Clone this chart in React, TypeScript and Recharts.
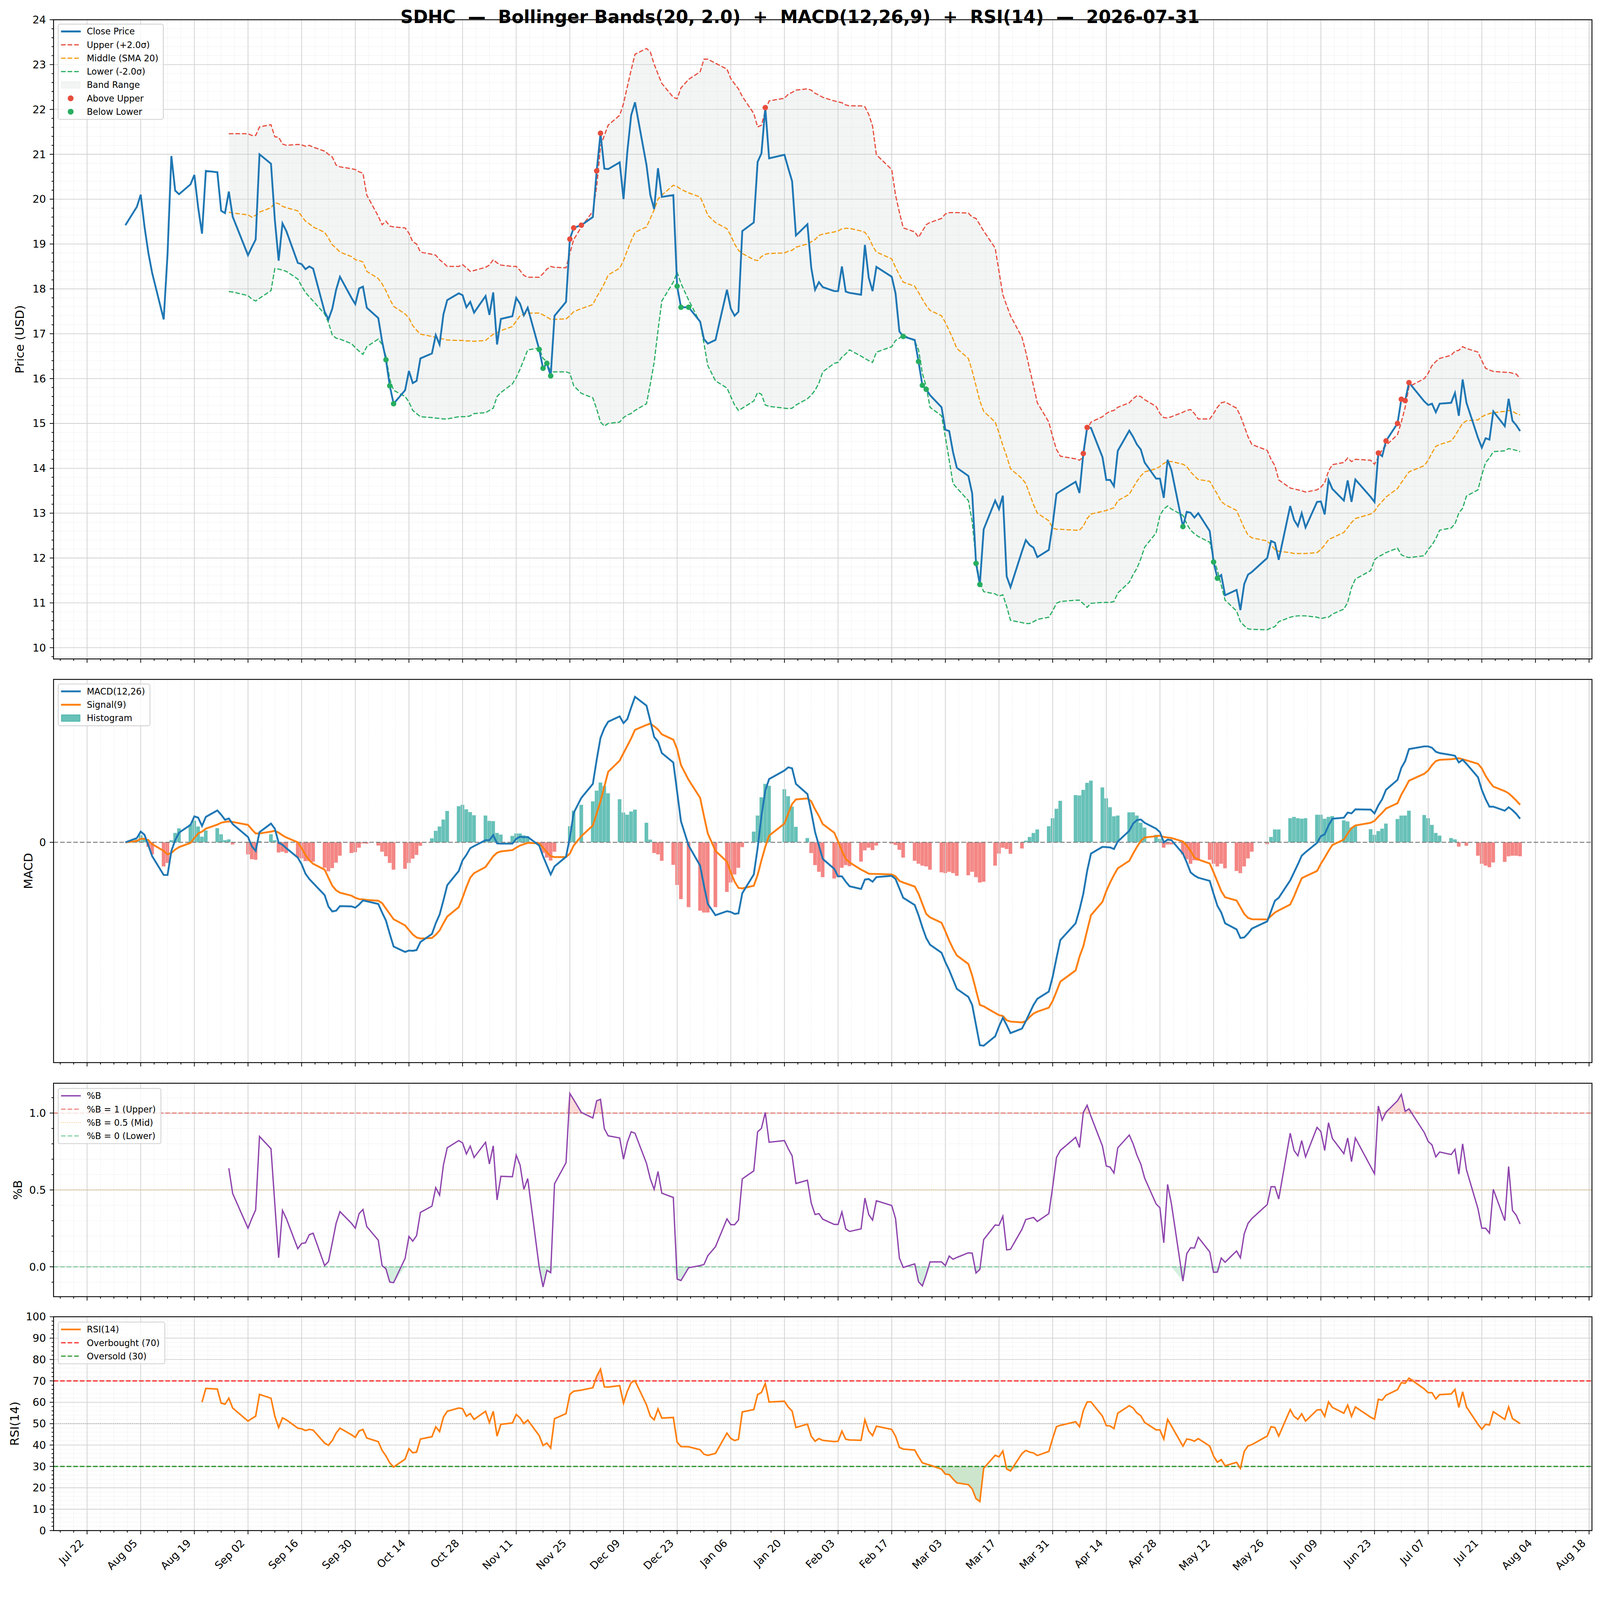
import React from 'react';
import { ComposedChart, Line, Area, Bar, Cell, XAxis, YAxis, ReferenceLine } from 'recharts';

// ---------- values ----------
const N = null;

const tradingDayGroups: [string, number[]][] = [
  ['2025-08', [1, 4, 5, 6, 7, 8, 11, 12, 13, 14, 15, 18, 19, 20, 21, 22, 25, 26, 27, 28, 29]],
  ['2025-09', [2, 3, 4, 5, 8, 9, 10, 11, 12, 15, 16, 17, 18, 19, 22, 23, 24, 25, 26, 29, 30]],
  ['2025-10', [1, 2, 3, 6, 7, 8, 9, 10, 13, 14, 15, 16, 17, 20, 21, 22, 23, 24, 27, 28, 29, 30, 31]],
  ['2025-11', [3, 4, 5, 6, 7, 10, 11, 12, 13, 14, 17, 18, 19, 20, 21, 24, 25, 26, 28]],
  ['2025-12', [1, 2, 3, 4, 5, 8, 9, 10, 11, 12, 15, 16, 17, 18, 19, 22, 23, 24, 26, 29, 30, 31]],
  ['2026-01', [2, 5, 6, 7, 8, 9, 12, 13, 14, 15, 16, 20, 21, 22, 23, 26, 27, 28, 29, 30]],
  ['2026-02', [2, 3, 4, 5, 6, 9, 10, 11, 12, 13, 17, 18, 19, 20, 23, 24, 25, 26, 27]],
  ['2026-03', [2, 3, 4, 5, 6, 9, 10, 11, 12, 13, 16, 17, 18, 19, 20, 23, 24, 25, 26, 27, 30, 31]],
  ['2026-04', [1, 2, 6, 7, 8, 9, 10, 13, 14, 15, 16, 17, 20, 21, 22, 23, 24, 27, 28, 29, 30]],
  ['2026-05', [1, 4, 5, 6, 7, 8, 11, 12, 13, 14, 15, 18, 19, 20, 21, 22, 26, 27, 28, 29]],
  ['2026-06', [1, 2, 3, 4, 5, 8, 9, 10, 11, 12, 15, 16, 17, 18, 22, 23, 24, 25, 26, 29, 30]],
  ['2026-07', [1, 2, 6, 7, 8, 9, 10, 13, 14, 15, 16, 17, 20, 21, 22, 23, 24, 27, 28, 29, 30, 31]],
];
const tradingDays = tradingDayGroups.flatMap(([m, ds]) => ds.map((d) => `${m}-${String(d).padStart(2, '0')}`));

const closePrice = [
  19.42, 19.83, 20.10, 19.38, 18.80, 18.35, 17.32, 18.77, 20.96, 20.19, 20.11, 20.33, 20.54, 19.81, 19.23, 20.63, 20.60, 19.74, 19.69, 20.17, 19.61,
  18.75, 18.93, 19.10, 21.00, 20.79, 19.54, 18.63, 19.46, 19.29, 18.58, 18.55, 18.44, 18.50, 18.45, 17.49, 17.32, 17.56, 17.98, 18.27, 17.80, 17.66,
  18.01, 18.05, 17.58, 17.35, 16.83, 16.42, 15.84, 15.44, 15.74, 16.17, 15.90, 15.95, 16.45, 16.56, 16.97, 16.76, 17.43, 17.75, 17.90, 17.86, 17.59, 17.71, 17.47,
  17.84, 17.42, 17.92, 16.76, 17.33, 17.39, 17.80, 17.67, 17.41, 17.58, 16.65, 16.23, 16.34, 16.06, 17.40, 17.71, 19.11, 19.36, 19.42,
  19.60, 20.63, 21.47, 20.68, 20.67, 20.82, 20.00, 21.06, 21.87, 22.16, 20.76, 20.09, 19.78, 20.69, 20.05, 20.09, 18.06, 17.59, 17.59, 17.27, 16.88, 16.78,
  16.86, 17.98, 17.56, 17.40, 17.49, 19.29, 19.48, 20.83, 21.02, 22.04, 20.91, 20.99, 20.69, 20.40, 19.19, 19.44, 18.47, 17.98, 18.15, 18.04,
  17.95, 17.95, 18.50, 17.94, 17.91, 17.87, 18.98, 18.25, 17.95, 18.49, 18.27, 17.90, 17.05, 16.94, 16.86, 16.38, 15.85, 15.76, 15.63,
  15.36, 14.86, 14.83, 14.36, 14.01, 13.83, 13.44, 11.88, 11.41, 12.64, 13.28, 13.09, 13.39, 11.59, 11.35, 12.15, 12.40, 12.29, 12.23, 12.02, 12.18, 12.75,
  13.43, 13.49, 13.70, 13.45, 14.33, 14.91, 14.90, 14.25, 13.74, 13.74, 13.60, 14.39, 14.84, 14.70, 14.53, 14.42, 14.13, 13.77, 13.77, 13.34, 14.19,
  13.96, 12.70, 13.03, 13.01, 12.90, 13.00, 12.60, 11.91, 11.55, 11.62, 11.17, 11.29, 10.84, 11.42, 11.63, 11.69, 12.00, 12.38, 12.34, 11.96,
  13.16, 12.85, 12.71, 13.00, 12.68, 13.25, 13.26, 12.97, 13.74, 13.54, 13.28, 13.73, 13.25, 13.75, 13.36, 13.25, 14.34, 14.27, 14.61, 15.00, 15.54,
  15.51, 15.91, 15.49, 15.41, 15.44, 15.25, 15.44, 15.46, 15.68, 15.17, 15.98, 15.46, 14.68, 14.46, 14.67, 14.64, 15.27, 14.94, 15.55, 15.06, 14.96, 14.83,
];

const upperBand = [
  N, N, N, N, N, N, N, N, N, N, N, N, N, N, N, N, N, N, N, 21.46, 21.46,
  21.46, 21.42, 21.42, 21.61, 21.66, 21.39, 21.38, 21.23, 21.20, 21.22, 21.21, 21.18, 21.20, 21.16, 21.07, 21.00, 20.94, 20.76, 20.72, 20.68, 20.66,
  20.61, 20.58, 20.09, 19.62, 19.43, 19.51, 19.40, 19.38, 19.36, 19.24, 19.05, 19.00, 18.82, 18.77, 18.75, 18.65, 18.58, 18.50, 18.50, 18.54, 18.47, 18.39, 18.41,
  18.48, 18.53, 18.65, 18.58, 18.53, 18.50, 18.50, 18.41, 18.30, 18.26, 18.26, 18.34, 18.44, 18.50, 18.48, 18.47, 18.79, 19.10, 19.38,
  19.73, 20.28, 21.18, 21.42, 21.65, 21.87, 22.13, 22.51, 22.88, 23.23, 23.36, 23.28, 23.01, 22.79, 22.58, 22.27, 22.24, 22.48, 22.67, 22.84, 23.12, 23.12,
  23.03, 22.90, 22.69, 22.57, 22.46, 22.29, 21.91, 21.61, 21.65, 21.97, 22.19, 22.25, 22.34, 22.38, 22.43, 22.46, 22.43, 22.36, 22.32, 22.27,
  22.19, 22.17, 22.15, 22.10, 22.08, 22.08, 22.06, 21.89, 21.63, 20.99, 20.66, 20.09, 19.71, 19.36, 19.27, 19.15, 19.29, 19.43, 19.48,
  19.57, 19.67, 19.70, 19.70, 19.70, 19.69, 19.60, 19.57, 19.43, 19.29, 18.91, 18.39, 17.87, 17.63, 17.40, 16.92, 16.59, 16.21, 15.84, 15.46, 15.03, 14.70,
  14.42, 14.27, 14.21, 14.18, 14.25, 14.87, 15.03, 15.15, 15.22, 15.27, 15.29, 15.36, 15.46, 15.55, 15.62, 15.60, 15.53, 15.38, 15.22, 15.13, 15.12,
  15.15, 15.25, 15.29, 15.31, 15.22, 15.10, 15.10, 15.22, 15.36, 15.46, 15.48, 15.34, 15.17, 14.94, 14.70, 14.53, 14.40, 14.20, 14.06, 13.74,
  13.56, 13.54, 13.52, 13.50, 13.47, 13.52, 13.58, 13.68, 13.94, 14.08, 14.13, 14.23, 14.15, 14.20, 14.18, 14.09, 14.25, 14.42, 14.51, 14.75, 15.03,
  15.36, 15.82, 16.00, 16.12, 16.29, 16.38, 16.45, 16.52, 16.61, 16.63, 16.71, 16.67, 16.59, 16.40, 16.23, 16.19, 16.16, 16.14, 16.14, 16.12, 16.10, 16.00,
];

const middleBand = [
  N, N, N, N, N, N, N, N, N, N, N, N, N, N, N, N, N, N, N, 19.71, 19.69,
  19.65, 19.60, 19.64, 19.71, 19.81, 19.92, 19.90, 19.84, 19.81, 19.74, 19.62, 19.51, 19.45, 19.38, 19.26, 19.13, 18.98, 18.91, 18.82, 18.72, 18.65,
  18.63, 18.60, 18.39, 18.23, 18.11, 17.96, 17.77, 17.61, 17.44, 17.35, 17.18, 17.08, 16.99, 16.94, 16.92, 16.90, 16.88, 16.86, 16.85, 16.85, 16.84, 16.84, 16.83,
  16.85, 16.92, 16.99, 17.02, 17.07, 17.16, 17.28, 17.40, 17.44, 17.46, 17.46, 17.42, 17.37, 17.32, 17.32, 17.33, 17.40, 17.49, 17.56,
  17.65, 17.82, 17.96, 18.12, 18.31, 18.46, 18.63, 18.86, 19.07, 19.26, 19.38, 19.57, 19.76, 20.00, 20.09, 20.31, 20.28, 20.22, 20.14, 20.05, 19.86, 19.64,
  19.48, 19.34, 19.19, 19.00, 18.86, 18.79, 18.65, 18.63, 18.72, 18.77, 18.79, 18.80, 18.84, 18.86, 18.93, 19.00, 19.05, 19.10, 19.19, 19.22,
  19.27, 19.29, 19.34, 19.35, 19.35, 19.29, 19.26, 19.15, 18.96, 18.82, 18.67, 18.48, 18.31, 18.15, 18.06, 17.92, 17.77, 17.63, 17.52,
  17.40, 17.25, 17.07, 16.88, 16.67, 16.45, 16.17, 15.84, 15.50, 15.27, 15.03, 14.79, 14.51, 14.27, 13.99, 13.77, 13.66, 13.42, 13.19, 13.00, 12.83, 12.67,
  12.64, 12.64, 12.62, 12.62, 12.71, 12.88, 12.98, 13.04, 13.06, 13.09, 13.12, 13.28, 13.42, 13.57, 13.71, 13.83, 13.92, 13.99, 14.04, 14.11, 14.15,
  14.15, 14.09, 14.04, 13.92, 13.83, 13.75, 13.71, 13.56, 13.42, 13.26, 13.19, 13.06, 12.86, 12.67, 12.51, 12.45, 12.38, 12.29, 12.19, 12.15,
  12.12, 12.10, 12.10, 12.10, 12.10, 12.12, 12.19, 12.29, 12.41, 12.45, 12.57, 12.68, 12.79, 12.88, 12.98, 13.04, 13.17, 13.26, 13.36, 13.55, 13.68,
  13.80, 13.92, 14.06, 14.18, 14.34, 14.49, 14.53, 14.61, 14.72, 14.87, 15.00, 15.06, 15.08, 15.15, 15.19, 15.22, 15.24, 15.27, 15.29, 15.27, 15.22, 15.19,
];

const lowerBand = [
  N, N, N, N, N, N, N, N, N, N, N, N, N, N, N, N, N, N, N, 17.94, 17.93,
  17.85, 17.77, 17.73, 17.79, 17.96, 18.45, 18.44, 18.42, 18.39, 18.22, 18.06, 17.92, 17.82, 17.73, 17.44, 17.25, 16.97, 16.90, 16.88, 16.78, 16.69,
  16.61, 16.54, 16.71, 16.88, 16.76, 16.50, 15.98, 15.74, 15.60, 15.48, 15.29, 15.22, 15.15, 15.13, 15.12, 15.11, 15.10, 15.10, 15.15, 15.15, 15.15, 15.17, 15.22,
  15.24, 15.29, 15.34, 15.60, 15.69, 15.88, 16.02, 16.21, 16.42, 16.64, 16.68, 16.45, 16.38, 16.15, 16.15, 16.15, 16.12, 15.84, 15.67,
  15.57, 15.32, 15.03, 14.94, 15.00, 15.03, 15.13, 15.19, 15.22, 15.29, 15.44, 15.88, 16.36, 17.07, 17.73, 18.15, 18.37, 18.12, 17.75, 17.25, 16.78, 16.29,
  15.95, 15.79, 15.60, 15.41, 15.29, 15.34, 15.50, 15.69, 15.65, 15.41, 15.38, 15.34, 15.33, 15.34, 15.41, 15.55, 15.63, 15.74, 15.90, 16.15,
  16.34, 16.36, 16.48, 16.55, 16.64, 16.50, 16.45, 16.40, 16.36, 16.59, 16.71, 16.85, 16.90, 16.97, 16.84, 16.64, 16.12, 15.82, 15.36,
  15.17, 14.70, 14.18, 13.66, 13.56, 13.28, 12.81, 11.96, 11.46, 11.25, 11.20, 11.15, 11.18, 10.92, 10.61, 10.56, 10.54, 10.54, 10.58, 10.63, 10.68, 10.82,
  10.99, 11.03, 11.06, 11.06, 10.98, 10.90, 10.99, 11.01, 11.01, 11.01, 11.03, 11.22, 11.46, 11.63, 11.77, 11.98, 12.24, 12.56, 12.95, 13.09, 13.16,
  13.09, 12.95, 12.76, 12.62, 12.54, 12.48, 12.35, 12.00, 11.72, 11.39, 11.06, 10.82, 10.58, 10.49, 10.42, 10.41, 10.40, 10.44, 10.47, 10.58,
  10.68, 10.70, 10.71, 10.71, 10.71, 10.68, 10.65, 10.67, 10.68, 10.75, 10.86, 11.01, 11.34, 11.53, 11.72, 11.96, 12.03, 12.07, 12.12, 12.22, 12.07,
  12.03, 12.01, 12.05, 12.19, 12.29, 12.43, 12.62, 12.67, 12.76, 13.00, 13.11, 13.38, 13.52, 13.85, 14.13, 14.23, 14.37, 14.39, 14.44, 14.42, 14.40, 14.37,
];

const aboveUpperDays = [
  '2025-11-25', '2025-11-26', '2025-11-28', '2025-12-02', '2025-12-03', '2026-01-15', '2026-04-08', '2026-04-09',
  '2026-06-24', '2026-06-26', '2026-06-29', '2026-06-30', '2026-07-01', '2026-07-02',
];
const belowLowerDays = [
  '2025-10-08', '2025-10-09', '2025-10-10', '2025-11-17', '2025-11-18', '2025-11-19', '2025-11-20', '2025-12-23',
  '2025-12-24', '2025-12-26', '2026-02-20', '2026-02-24', '2026-02-25', '2026-02-26', '2026-03-11', '2026-03-12',
  '2026-05-04', '2026-05-12', '2026-05-13',
];

const macdLine = [
  0.000, 0.032, 0.080, 0.056, -0.024, -0.104, -0.244, -0.244, -0.064, 0.016, 0.072, 0.130, 0.194, 0.184, 0.122, 0.190, 0.238, 0.206, 0.168, 0.178, 0.136,
  0.040, -0.030, -0.064, 0.076, 0.140, 0.102, -0.004, -0.018, -0.044, -0.114, -0.164, -0.234, -0.274, -0.304, -0.394, -0.480, -0.516, -0.510, -0.476, -0.478, -0.488,
  -0.464, -0.434, -0.440, -0.460, -0.524, -0.584, -0.684, -0.778, -0.818, -0.808, -0.810, -0.804, -0.744, -0.684, -0.604, -0.540, -0.434, -0.320, -0.214, -0.134, -0.094, -0.044, -0.028,
  0.016, 0.016, 0.054, -0.008, -0.010, -0.010, 0.026, 0.042, 0.038, 0.040, -0.024, -0.104, -0.172, -0.240, -0.180, -0.108, 0.036, 0.220, 0.332,
  0.436, 0.616, 0.780, 0.852, 0.900, 0.940, 0.890, 0.920, 1.006, 1.086, 1.020, 0.906, 0.786, 0.752, 0.666, 0.596, 0.376, 0.156, -0.024, -0.174, -0.324, -0.460,
  -0.544, -0.514, -0.520, -0.534, -0.530, -0.380, -0.240, -0.044, 0.196, 0.386, 0.472, 0.536, 0.560, 0.552, 0.436, 0.360, 0.226, 0.076, -0.024, -0.124,
  -0.198, -0.254, -0.254, -0.294, -0.328, -0.348, -0.278, -0.274, -0.294, -0.260, -0.250, -0.274, -0.344, -0.414, -0.468, -0.544, -0.634, -0.714, -0.764,
  -0.824, -0.894, -0.954, -1.024, -1.094, -1.154, -1.214, -1.364, -1.514, -1.518, -1.448, -1.374, -1.310, -1.364, -1.424, -1.390, -1.334, -1.274, -1.214, -1.168, -1.114, -1.004,
  -0.864, -0.730, -0.604, -0.504, -0.384, -0.214, -0.084, -0.034, -0.036, -0.038, -0.050, 0.006, 0.086, 0.140, 0.166, 0.170, 0.146, 0.102, 0.076, 0.000, 0.020,
  0.016, -0.084, -0.150, -0.224, -0.248, -0.264, -0.288, -0.384, -0.474, -0.524, -0.604, -0.650, -0.714, -0.710, -0.680, -0.644, -0.590, -0.514, -0.436, -0.414,
  -0.284, -0.224, -0.164, -0.100, -0.074, -0.004, 0.046, 0.060, 0.126, 0.176, 0.184, 0.222, 0.216, 0.246, 0.244, 0.216, 0.276, 0.322, 0.392, 0.466, 0.556,
  0.606, 0.696, 0.716, 0.716, 0.706, 0.676, 0.666, 0.652, 0.646, 0.596, 0.616, 0.586, 0.486, 0.392, 0.322, 0.266, 0.266, 0.236, 0.262, 0.240, 0.212, 0.176,
];

const signalLine = [
  0.000, 0.010, 0.026, 0.026, 0.016, -0.014, -0.064, -0.090, -0.080, -0.054, -0.036, -0.004, 0.032, 0.066, 0.080, 0.102, 0.132, 0.146, 0.152, 0.156, 0.152,
  0.130, 0.096, 0.066, 0.066, 0.080, 0.086, 0.072, 0.052, 0.036, 0.000, -0.044, -0.094, -0.134, -0.160, -0.204, -0.264, -0.324, -0.358, -0.376, -0.398, -0.414,
  -0.424, -0.426, -0.430, -0.436, -0.454, -0.494, -0.534, -0.574, -0.620, -0.654, -0.688, -0.710, -0.718, -0.714, -0.690, -0.658, -0.604, -0.554, -0.484, -0.414, -0.334, -0.264, -0.230,
  -0.184, -0.144, -0.104, -0.078, -0.068, -0.058, -0.040, -0.024, -0.014, -0.004, -0.008, -0.040, -0.074, -0.104, -0.110, -0.110, -0.084, -0.024, 0.046,
  0.126, 0.216, 0.306, 0.416, 0.526, 0.610, 0.666, 0.720, 0.776, 0.840, 0.876, 0.886, 0.866, 0.842, 0.806, 0.766, 0.696, 0.576, 0.466, 0.332, 0.196, 0.066,
  -0.064, -0.144, -0.224, -0.294, -0.340, -0.344, -0.324, -0.244, -0.134, -0.034, 0.050, 0.140, 0.216, 0.286, 0.320, 0.328, 0.306, 0.246, 0.196, 0.136,
  0.072, 0.006, -0.064, -0.124, -0.150, -0.204, -0.218, -0.234, -0.236, -0.236, -0.240, -0.254, -0.288, -0.300, -0.330, -0.384, -0.460, -0.534, -0.560,
  -0.600, -0.664, -0.734, -0.794, -0.844, -0.908, -0.994, -1.104, -1.214, -1.224, -1.274, -1.290, -1.296, -1.328, -1.338, -1.344, -1.334, -1.304, -1.278, -1.264, -1.234, -1.184,
  -1.114, -1.040, -0.956, -0.854, -0.776, -0.658, -0.544, -0.444, -0.364, -0.300, -0.244, -0.194, -0.138, -0.084, -0.034, 0.010, 0.036, 0.046, 0.050, 0.040, 0.036,
  0.032, 0.006, -0.024, -0.064, -0.114, -0.128, -0.158, -0.224, -0.294, -0.364, -0.410, -0.434, -0.484, -0.534, -0.564, -0.574, -0.576, -0.550, -0.524, -0.508,
  -0.464, -0.404, -0.334, -0.268, -0.254, -0.214, -0.160, -0.114, -0.064, -0.020, 0.020, 0.066, 0.106, 0.126, 0.146, 0.160, 0.192, 0.220, 0.252, 0.292, 0.356,
  0.406, 0.460, 0.512, 0.536, 0.576, 0.606, 0.616, 0.620, 0.624, 0.628, 0.620, 0.612, 0.586, 0.552, 0.496, 0.452, 0.416, 0.382, 0.366, 0.340, 0.312, 0.280,
];

const macdHistogram = [
  0, 0.022, 0.054, 0.030, -0.034, -0.090, -0.180, -0.154, 0.016, 0.070, 0.104, 0.134, 0.162, 0.118, 0.042, 0.088, 0.106, 0.060, 0.016, 0.022, -0.016,
  -0.090, -0.126, -0.130, 0.010, 0.060, 0.016, -0.076, -0.070, -0.080, -0.114, -0.120, -0.140, -0.140, -0.144, -0.190, -0.216, -0.192, -0.152, -0.100, -0.080, -0.074,
  -0.040, -0.008, -0.010, -0.024, -0.070, -0.104, -0.154, -0.204, -0.198, -0.154, -0.122, -0.094, -0.026, 0.030, 0.086, 0.118, 0.170, 0.234, 0.270, 0.280, 0.246, 0.226, 0.202,
  0.200, 0.160, 0.158, 0.070, 0.058, 0.048, 0.066, 0.066, 0.052, 0.044, -0.016, -0.080, -0.114, -0.136, -0.070, -0.002, 0.120, 0.236, 0.280,
  0.306, 0.386, 0.446, 0.420, 0.366, 0.322, 0.222, 0.206, 0.230, 0.244, 0.146, 0.020, -0.080, -0.090, -0.138, -0.168, -0.318, -0.424, -0.484, -0.510, -0.524, -0.524,
  -0.484, -0.370, -0.300, -0.240, -0.190, -0.036, 0.080, 0.200, 0.336, 0.436, 0.422, 0.396, 0.344, 0.266, 0.116, 0.032, -0.080, -0.170, -0.220, -0.260,
  -0.270, -0.260, -0.190, -0.170, -0.178, -0.144, -0.060, -0.040, -0.058, -0.024, -0.010, -0.020, -0.056, -0.114, -0.138, -0.160, -0.174, -0.180, -0.204,
  -0.224, -0.230, -0.220, -0.230, -0.250, -0.246, -0.220, -0.260, -0.300, -0.294, -0.174, -0.084, -0.040, -0.050, -0.086, -0.046, 0.012, 0.040, 0.070, 0.096, 0.120, 0.180,
  0.250, 0.310, 0.352, 0.350, 0.392, 0.444, 0.460, 0.410, 0.328, 0.262, 0.194, 0.200, 0.224, 0.224, 0.200, 0.146, 0.110, 0.056, 0.026, -0.040, -0.016,
  -0.016, -0.090, -0.126, -0.160, -0.134, -0.136, -0.130, -0.160, -0.180, -0.160, -0.194, -0.214, -0.230, -0.180, -0.120, -0.070, -0.014, 0.040, 0.096, 0.096,
  0.180, 0.190, 0.180, 0.176, 0.180, 0.206, 0.206, 0.176, 0.190, 0.196, 0.164, 0.156, 0.110, 0.120, 0.098, 0.056, 0.084, 0.102, 0.140, 0.174, 0.200,
  0.200, 0.236, 0.204, 0.180, 0.130, 0.070, 0.050, 0.032, 0.022, -0.032, -0.004, -0.026, -0.100, -0.160, -0.174, -0.186, -0.150, -0.146, -0.104, -0.100, -0.100, -0.104,
];

const percentB = [
  N, N, N, N, N, N, N, N, N, N, N, N, N, N, N, N, N, N, N, 0.641, 0.477,
  0.251, 0.314, 0.371, 0.848, 0.768, 0.409, 0.059, 0.367, 0.314, 0.118, 0.152, 0.156, 0.209, 0.219, 0.008, 0.034, 0.156, 0.283, 0.359, 0.283, 0.251,
  0.346, 0.373, 0.262, 0.173, 0.008, -0.013, -0.099, -0.103, 0.055, 0.198, 0.167, 0.203, 0.354, 0.395, 0.515, 0.466, 0.662, 0.774, 0.821, 0.806, 0.734, 0.785, 0.711,
  0.810, 0.669, 0.787, 0.435, 0.589, 0.586, 0.726, 0.662, 0.504, 0.574, -0.002, -0.131, -0.023, -0.038, 0.540, 0.677, 1.127, 1.087, 1.004,
  0.968, 1.080, 1.089, 0.899, 0.852, 0.838, 0.700, 0.810, 0.878, 0.869, 0.673, 0.572, 0.504, 0.620, 0.479, 0.451, -0.080, -0.089, -0.006, 0.008, 0.015, 0.072,
  0.131, 0.312, 0.274, 0.274, 0.304, 0.572, 0.624, 0.878, 0.901, 1.004, 0.810, 0.821, 0.768, 0.722, 0.542, 0.563, 0.414, 0.340, 0.346, 0.310,
  0.276, 0.276, 0.357, 0.247, 0.230, 0.247, 0.447, 0.340, 0.304, 0.430, 0.399, 0.314, 0.057, -0.004, 0.019, -0.097, -0.124, -0.051, 0.032,
  0.032, 0.008, 0.070, 0.049, 0.061, 0.091, 0.089, -0.040, -0.017, 0.177, 0.272, 0.270, 0.329, 0.110, 0.114, 0.245, 0.308, 0.314, 0.321, 0.295, 0.346, 0.519,
  0.711, 0.757, 0.842, 0.776, 1.004, 1.051, 0.979, 0.785, 0.656, 0.648, 0.610, 0.774, 0.857, 0.800, 0.726, 0.669, 0.578, 0.409, 0.384, 0.156, 0.536,
  0.409, -0.093, 0.086, 0.124, 0.122, 0.192, 0.097, -0.036, -0.034, 0.057, 0.030, 0.103, 0.059, 0.215, 0.283, 0.314, 0.405, 0.521, 0.521, 0.441,
  0.869, 0.757, 0.722, 0.821, 0.715, 0.907, 0.880, 0.757, 0.937, 0.835, 0.736, 0.838, 0.684, 0.838, 0.652, 0.605, 1.046, 0.954, 1.006, 1.080, 1.122,
  1.011, 1.027, 0.873, 0.816, 0.793, 0.715, 0.747, 0.730, 0.764, 0.603, 0.800, 0.631, 0.378, 0.251, 0.251, 0.219, 0.504, 0.300, 0.652, 0.367, 0.335, 0.278,
];

const rsi14 = [
  N, N, N, N, N, N, N, N, N, N, N, N, N, N, 60.1, 66.5, 66.2, 59.6, 59.1, 61.9, 57.3,
  51.2, 52.4, 53.5, 63.7, 61.9, 53.5, 48.2, 52.7, 51.8, 47.9, 47.6, 46.8, 47.3, 47.0, 40.9, 39.9, 42.1, 45.6, 47.9, 44.8, 43.6,
  46.6, 47.3, 43.3, 41.6, 37.5, 34.9, 31.7, 29.7, 33.4, 38.3, 36.4, 36.7, 42.8, 43.9, 48.5, 46.3, 53.0, 55.8, 57.3, 57.0, 53.5, 54.7, 52.0,
  55.8, 50.5, 55.8, 44.2, 49.7, 50.3, 54.3, 52.7, 50.0, 51.7, 44.4, 39.8, 40.9, 38.6, 52.3, 54.7, 63.7, 65.2, 65.7,
  66.8, 72.1, 75.5, 67.2, 67.1, 67.8, 59.6, 65.2, 69.2, 70.1, 58.8, 53.5, 51.8, 56.9, 52.6, 52.9, 41.3, 39.3, 39.2, 37.8, 35.7, 35.2,
  36.1, 45.6, 43.1, 42.1, 42.7, 55.5, 56.6, 63.6, 64.6, 68.8, 60.1, 60.5, 57.8, 55.9, 48.2, 49.8, 44.1, 41.8, 43.0, 42.2,
  41.6, 41.8, 46.5, 42.7, 42.4, 42.2, 51.8, 46.6, 44.4, 48.8, 47.3, 44.1, 38.9, 38.1, 37.7, 34.5, 31.7, 31.1, 30.6,
  28.7, 26.4, 26.2, 24.1, 22.3, 21.5, 19.5, 14.9, 13.6, 29.1, 35.2, 34.5, 37.2, 28.8, 27.9, 36.0, 37.5, 36.7, 36.3, 35.1, 37.0, 43.1,
  48.6, 49.2, 50.9, 48.6, 56.1, 60.1, 60.2, 53.5, 49.1, 48.9, 47.7, 54.9, 58.4, 57.3, 55.0, 53.7, 50.6, 47.1, 47.1, 42.8, 52.0,
  48.9, 39.5, 42.8, 42.5, 41.8, 43.0, 39.5, 34.8, 32.0, 33.2, 30.3, 31.9, 29.1, 37.0, 39.6, 40.2, 44.2, 48.6, 48.2, 44.2,
  56.6, 53.4, 52.0, 54.6, 51.2, 56.4, 56.6, 53.4, 60.2, 57.6, 54.9, 58.7, 53.4, 57.8, 53.0, 52.1, 61.4, 61.0, 63.3, 65.9, 69.2,
  68.9, 71.3, 66.2, 64.5, 64.5, 61.6, 63.6, 63.9, 66.0, 57.6, 64.9, 57.8, 49.7, 47.4, 49.7, 49.4, 55.6, 52.0, 57.8, 52.4, 51.2, 50.0,
];

// ---------- layout ----------
const FONT = "'DejaVu Sans', sans-serif";
const PAGE_W = 4378;
const PAGE_H = 4322;
const PLOT_LEFT = 146.5;
const PLOT_RIGHT = 4356;
const X_DOMAIN: [number, number] = [-8.75, 392.75];
const PAD_TOP = 30;

const EPOCH = Date.UTC(2025, 6, 22);
const DAY_MS = 86400000;
const MONTHS = ['Jan', 'Feb', 'Mar', 'Apr', 'May', 'Jun', 'Jul', 'Aug', 'Sep', 'Oct', 'Nov', 'Dec'];
const toDay = (s: string) => {
  const [y, m, d] = s.split('-').map(Number);
  return (Date.UTC(y, m - 1, d) - EPOCH) / DAY_MS;
};
const fmtDay = (v: number) => {
  const dt = new Date(EPOCH + v * DAY_MS);
  return `${MONTHS[dt.getUTCMonth()]} ${String(dt.getUTCDate()).padStart(2, '0')}`;
};

const rows = tradingDays.map((day, i) => {
  const up = upperBand[i] ?? null;
  const lo = lowerBand[i] ?? null;
  return {
    x: toDay(day),
    close: closePrice[i],
    upper: up,
    middle: middleBand[i] ?? null,
    lower: lo,
    band: up == null || lo == null ? null : [lo, up],
    above: aboveUpperDays.includes(day) ? closePrice[i] : null,
    below: belowLowerDays.includes(day) ? closePrice[i] : null,
    macd: macdLine[i],
    signal: signalLine[i],
    hist: macdHistogram[i] ?? 0,
    pctB: percentB[i] ?? null,
    rsi: rsi14[i] ?? null,
  };
});

const steps = (a: number, b: number, s: number) => {
  const out: number[] = [];
  const n = Math.round((b - a) / s);
  for (let i = 0; i <= n; i++) out.push(+(a + i * s).toFixed(6));
  return out;
};
const isMult = (v: number, s: number) => Math.abs(v / s - Math.round(v / s)) < 1e-6;

const majorX = steps(0, 392, 14);
const minorX = steps(-7, 392, 3.5).filter((v) => !isMult(v, 14));
const xTicks = [...minorX, ...majorX].sort((a, b) => a - b);

const priceMajor = steps(10, 24, 1);
const priceMinor = steps(9.8, 24, 0.2).filter((v) => !isMult(v, 1));
const pctBMajor = [0, 0.5, 1];
const pctBMinor = steps(-0.1, 1.1, 0.1).filter((v) => !isMult(v, 0.5));
const rsiMajor = steps(0, 100, 10);
const rsiMinor = steps(0, 100, 2).filter((v) => !isMult(v, 10));

const GRID_MAJOR = { stroke: '#d0d0d0', strokeWidth: 2 };
const GRID_MINOR = { stroke: '#d6d6d6', strokeWidth: 1.3, strokeDasharray: '1.3 3.2' };
const DASH = '12.6 5.4';

const makeXTick = (labels: boolean) => (p: any) => {
  const { x, y, payload } = p;
  const v = payload.value as number;
  const major = isMult(v, 14);
  const ax = x - 7.5;
  const ay = y + 36.5;
  return (
    <g>
      <line x1={x} y1={y} x2={x} y2={y + (major ? 10.5 : 5.5)} stroke="#000" strokeWidth={2} />
      {labels && major ? (
        <text x={ax} y={ay} textAnchor="end" fontSize={29} fontFamily={FONT} fill="#000" transform={`rotate(-45 ${ax} ${ay})`}>
          {fmtDay(v)}
        </text>
      ) : null}
    </g>
  );
};

const makeYTick = (isMajor: (v: number) => boolean, fmt: (v: number) => string) => (p: any) => {
  const { x, y, payload } = p;
  const v = payload.value as number;
  const major = isMajor(v);
  return (
    <g>
      <line x1={x - (major ? 10.5 : 5.5)} y1={y} x2={x} y2={y} stroke="#000" strokeWidth={2} />
      {major ? (
        <text x={x - 20.5} y={y} textAnchor="end" dominantBaseline="central" fontSize={29} fontFamily={FONT} fill="#000">
          {fmt(v)}
        </text>
      ) : null}
    </g>
  );
};

const vGrid = (id: string) => [
  ...minorX.map((v) => <ReferenceLine key={`${id}vm${v}`} x={v} {...GRID_MINOR} />),
  ...majorX.map((v) => <ReferenceLine key={`${id}vM${v}`} x={v} {...GRID_MAJOR} />),
];
const hGrid = (id: string, majors: number[], minors: number[]) => [
  ...minors.map((v) => <ReferenceLine key={`${id}hm${v}`} y={v} {...GRID_MINOR} />),
  ...majors.map((v) => <ReferenceLine key={`${id}hM${v}`} y={v} {...GRID_MAJOR} />),
];

const markerDot = (color: string) => (p: any) => {
  if (p.value == null || p.cy == null || Number.isNaN(p.cy)) return <g key={`n${p.index}`} />;
  return <circle key={`d${p.index}`} cx={p.cx} cy={p.cy} r={7.5} fill={color} />;
};

type PanelProps = {
  top: number;
  height: number;
  domain: [number, number];
  yTicks: number[];
  yMajor: (v: number) => boolean;
  yFmt: (v: number) => string;
  xLabels?: boolean;
  children: React.ReactNode;
};

function Panel({ top, height, domain, yTicks, yMajor, yFmt, xLabels, children }: PanelProps) {
  const axisH = xLabels ? 135 : 24;
  return (
    <div style={{ position: 'absolute', left: 0, top: top - PAD_TOP }}>
      <ComposedChart
        width={PAGE_W}
        height={PAD_TOP + height + axisH}
        data={rows}
        margin={{ top: PAD_TOP, right: PAGE_W - PLOT_RIGHT, bottom: 0, left: 0 }}
      >
        <XAxis
          dataKey="x"
          type="number"
          domain={X_DOMAIN}
          allowDataOverflow
          ticks={xTicks}
          interval={0}
          tickSize={0}
          tickMargin={0}
          axisLine={false}
          tickLine={false}
          height={axisH}
          tick={makeXTick(!!xLabels)}
        />
        <YAxis
          type="number"
          domain={domain}
          allowDataOverflow
          ticks={yTicks}
          interval={0}
          width={PLOT_LEFT}
          tickSize={0}
          tickMargin={0}
          axisLine={false}
          tickLine={false}
          tick={makeYTick(yMajor, yFmt)}
        />
        {children}
      </ComposedChart>
    </div>
  );
}

const P_PRICE = { top: 54, height: 1749 };
const P_MACD = { top: 1859, height: 1048.5 };
const P_PCTB = { top: 2964, height: 584 };
const P_RSI = { top: 3603, height: 585 };

type LegendItem = { label: string; kind: 'line' | 'patch' | 'dot'; color: string; width?: number; dash?: string; opacity?: number };

function LegendBox({ firstY, width, items }: { firstY: number; width: number; items: LegendItem[] }) {
  const step = 36.6;
  const top = firstY - 20;
  const h = (items.length - 1) * step + 41;
  return (
    <g>
      <rect x={159.3} y={top} width={width} height={h} rx={5} fill="#fff" fillOpacity={0.8} stroke="#cccccc" strokeWidth={2} />
      {items.map((it, i) => {
        const cy = firstY + i * step;
        let handle: React.ReactNode = null;
        if (it.kind === 'line') {
          handle = (
            <line x1={167} y1={cy} x2={221} y2={cy} stroke={it.color} strokeWidth={it.width ?? 5} strokeDasharray={it.dash}
              strokeOpacity={it.opacity ?? 1} />
          );
        } else if (it.kind === 'patch') {
          handle = <rect x={168} y={cy - 9} width={51} height={18} fill={it.color} fillOpacity={it.opacity ?? 1} stroke={it.color}
            strokeOpacity={(it.opacity ?? 1) * 1.2} strokeWidth={1.5} />;
        } else {
          handle = <circle cx={193.3} cy={cy} r={8} fill={it.color} />;
        }
        return (
          <g key={it.label}>
            {handle}
            <text x={237.5} y={cy} dominantBaseline="central" fontSize={24} fontFamily={FONT} fill="#000">
              {it.label}
            </text>
          </g>
        );
      })}
    </g>
  );
}

const spine = (p: { top: number; height: number }, key: string) => (
  <rect key={key} x={PLOT_LEFT} y={p.top} width={PLOT_RIGHT - PLOT_LEFT} height={p.height} fill="none" stroke="#000" strokeWidth={2.4} />
);

const yLabel = (text: string, cx: number, cy: number) => (
  <text x={cx} y={cy} textAnchor="middle" dominantBaseline="central" fontSize={33} fontFamily={FONT} fill="#000"
    transform={`rotate(-90 ${cx} ${cy})`}>
    {text}
  </text>
);

export default function App() {
  // the figure is laid out at 4378x4322; shrink it if the real viewport is smaller
  const [scale, setScale] = React.useState(1);
  React.useLayoutEffect(() => {
    const fit = () => setScale(Math.min(1, window.innerWidth / PAGE_W, window.innerHeight / PAGE_H));
    fit();
    window.addEventListener('resize', fit);
    return () => window.removeEventListener('resize', fit);
  }, []);

  return (
    <div
      style={{
        position: 'absolute', left: 0, top: 0, width: PAGE_W, height: PAGE_H, background: '#fff', overflow: 'hidden',
        transform: `scale(${scale})`, transformOrigin: '0 0',
      }}
    >
      <Panel {...P_PRICE} domain={[9.75, 24]} yTicks={[...priceMinor, ...priceMajor]} yMajor={(v) => isMult(v, 1)} yFmt={(v) => String(v)}>
        {[
          ...vGrid('p'),
          ...hGrid('p', priceMajor, priceMinor),
          <Area key="band" dataKey="band" type="linear" fill="#95a5a6" fillOpacity={0.11} stroke="none" isAnimationActive={false} />,
          <Line key="upper" dataKey="upper" type="linear" stroke="#e74c3c" strokeWidth={3.2} strokeDasharray={DASH} dot={false} activeDot={false} isAnimationActive={false} />,
          <Line key="middle" dataKey="middle" type="linear" stroke="#f39c12" strokeWidth={3.2} strokeDasharray={DASH} dot={false} activeDot={false} isAnimationActive={false} />,
          <Line key="lower" dataKey="lower" type="linear" stroke="#27ae60" strokeWidth={3.2} strokeDasharray={DASH} dot={false} activeDot={false} isAnimationActive={false} />,
          <Line key="close" dataKey="close" type="linear" stroke="#1f77b4" strokeWidth={5} dot={false} activeDot={false} isAnimationActive={false} />,
          <Line key="above" dataKey="above" stroke="none" dot={markerDot('#e74c3c')} activeDot={false} isAnimationActive={false} />,
          <Line key="below" dataKey="below" stroke="none" dot={markerDot('#27ae60')} activeDot={false} isAnimationActive={false} />,
        ]}
      </Panel>

      <Panel {...P_MACD} domain={[-1.644, 1.216]} yTicks={[0]} yMajor={() => true} yFmt={() => '0'}>
        {[
          ...vGrid('m'),
          <Bar key="hist" dataKey="hist" barSize={10} isAnimationActive={false}>
            {rows.map((r, i) => (
              <Cell key={`c${i}`} fill={r.hist >= 0 ? '#26a69a' : '#ef5350'} fillOpacity={0.7} />
            ))}
          </Bar>,
          <ReferenceLine key="zero" y={0} stroke="#808080" strokeWidth={2.7} strokeDasharray={DASH} />,
          <Line key="signal" dataKey="signal" type="linear" stroke="#ff7f0e" strokeWidth={5} dot={false} activeDot={false} isAnimationActive={false} />,
          <Line key="macd" dataKey="macd" type="linear" stroke="#1f77b4" strokeWidth={5} dot={false} activeDot={false} isAnimationActive={false} />,
        ]}
      </Panel>

      <Panel {...P_PCTB} domain={[-0.194, 1.194]} yTicks={[...pctBMinor, ...pctBMajor]} yMajor={(v) => isMult(v, 0.5)} yFmt={(v) => v.toFixed(1)}>
        {[
          ...vGrid('b'),
          ...hGrid('b', pctBMajor, pctBMinor),
          <Area key="bHi" dataKey={(r: any) => (r.pctB == null ? null : [1, Math.max(1, r.pctB)])} type="linear" fill="#e74c3c" fillOpacity={0.2} stroke="none" isAnimationActive={false} />,
          <Area key="bLo" dataKey={(r: any) => (r.pctB == null ? null : [Math.min(0, r.pctB), 0])} type="linear" fill="#27ae60" fillOpacity={0.2} stroke="none" isAnimationActive={false} />,
          <ReferenceLine key="b1" y={1} stroke="#e74c3c" strokeOpacity={0.75} strokeWidth={2.6} strokeDasharray={DASH} />,
          <ReferenceLine key="b05" y={0.5} stroke="#f39c12" strokeOpacity={0.65} strokeWidth={2.2} strokeDasharray="2.2 3.6" />,
          <ReferenceLine key="b0" y={0} stroke="#27ae60" strokeOpacity={0.65} strokeWidth={2.6} strokeDasharray={DASH} />,
          <Line key="pctB" dataKey="pctB" type="linear" stroke="#8e44ad" strokeWidth={3.6} dot={false} activeDot={false} isAnimationActive={false} />,
        ]}
      </Panel>

      <Panel {...P_RSI} domain={[0, 100]} yTicks={[...rsiMinor, ...rsiMajor]} yMajor={(v) => isMult(v, 10)} yFmt={(v) => String(v)} xLabels>
        {[
          ...vGrid('r'),
          ...hGrid('r', rsiMajor, rsiMinor),
          <Area key="rHi" dataKey={(r: any) => (r.rsi == null ? null : [70, Math.max(70, r.rsi)])} type="linear" fill="#ff0000" fillOpacity={0.2} stroke="none" isAnimationActive={false} />,
          <Area key="rLo" dataKey={(r: any) => (r.rsi == null ? null : [Math.min(30, r.rsi), 30])} type="linear" fill="#008000" fillOpacity={0.2} stroke="none" isAnimationActive={false} />,
          <ReferenceLine key="r70" y={70} stroke="#ff0000" strokeOpacity={0.8} strokeWidth={3.4} strokeDasharray={DASH} />,
          <ReferenceLine key="r50" y={50} stroke="#808080" strokeOpacity={0.6} strokeWidth={2.2} strokeDasharray="2.2 3.6" />,
          <ReferenceLine key="r30" y={30} stroke="#008000" strokeOpacity={0.8} strokeWidth={3.4} strokeDasharray={DASH} />,
          <Line key="rsi" dataKey="rsi" type="linear" stroke="#ff7f0e" strokeWidth={4.3} dot={false} activeDot={false} isAnimationActive={false} />,
        ]}
      </Panel>

      <svg width={PAGE_W} height={PAGE_H} style={{ position: 'absolute', left: 0, top: 0, pointerEvents: 'none' }}>
        {spine(P_PRICE, 's1')}
        {spine(P_MACD, 's2')}
        {spine(P_PCTB, 's3')}
        {spine(P_RSI, 's4')}

        <text x={PAGE_W / 2} y={63} textAnchor="middle" fontSize={48.5} fontWeight="bold" fontFamily={FONT} fill="#000"
          xmlSpace="preserve" style={{ whiteSpace: 'pre' }}>
          {'SDHC  —  Bollinger Bands(20, 2.0)  +  MACD(12,26,9)  +  RSI(14)  —  2026-07-31'}
        </text>

        {yLabel('Price (USD)', 53.6, P_PRICE.top + P_PRICE.height / 2)}
        {yLabel('MACD', 76.6, P_MACD.top + P_MACD.height / 2)}
        {yLabel('%B', 48, P_PCTB.top + P_PCTB.height / 2)}
        {yLabel('RSI(14)', 39.5, P_RSI.top + P_RSI.height / 2)}

        <LegendBox
          firstY={86}
          width={287.4}
          items={[
            { label: 'Close Price', kind: 'line', color: '#1f77b4', width: 5.2 },
            { label: 'Upper (+2.0σ)', kind: 'line', color: '#e74c3c', width: 3.3, dash: DASH },
            { label: 'Middle (SMA 20)', kind: 'line', color: '#f39c12', width: 3.3, dash: DASH },
            { label: 'Lower (-2.0σ)', kind: 'line', color: '#27ae60', width: 3.3, dash: DASH },
            { label: 'Band Range', kind: 'patch', color: '#95a5a6', opacity: 0.11 },
            { label: 'Above Upper', kind: 'dot', color: '#e74c3c' },
            { label: 'Below Lower', kind: 'dot', color: '#27ae60' },
          ]}
        />
        <LegendBox
          firstY={1891.7}
          width={251}
          items={[
            { label: 'MACD(12,26)', kind: 'line', color: '#1f77b4', width: 5.2 },
            { label: 'Signal(9)', kind: 'line', color: '#ff7f0e', width: 5.2 },
            { label: 'Histogram', kind: 'patch', color: '#26a69a', opacity: 0.7 },
          ]}
        />
        <LegendBox
          firstY={2998.4}
          width={281}
          items={[
            { label: '%B', kind: 'line', color: '#8e44ad', width: 3.8 },
            { label: '%B = 1 (Upper)', kind: 'line', color: '#e74c3c', width: 2.6, dash: DASH, opacity: 0.75 },
            { label: '%B = 0.5 (Mid)', kind: 'line', color: '#f39c12', width: 2.2, dash: '2.2 3.6', opacity: 0.65 },
            { label: '%B = 0 (Lower)', kind: 'line', color: '#27ae60', width: 2.6, dash: DASH, opacity: 0.65 },
          ]}
        />
        <LegendBox
          firstY={3637.6}
          width={291.6}
          items={[
            { label: 'RSI(14)', kind: 'line', color: '#ff7f0e', width: 4.6 },
            { label: 'Overbought (70)', kind: 'line', color: '#ff0000', width: 3.4, dash: DASH, opacity: 0.8 },
            { label: 'Oversold (30)', kind: 'line', color: '#008000', width: 3.4, dash: DASH, opacity: 0.8 },
          ]}
        />
      </svg>
    </div>
  );
}
